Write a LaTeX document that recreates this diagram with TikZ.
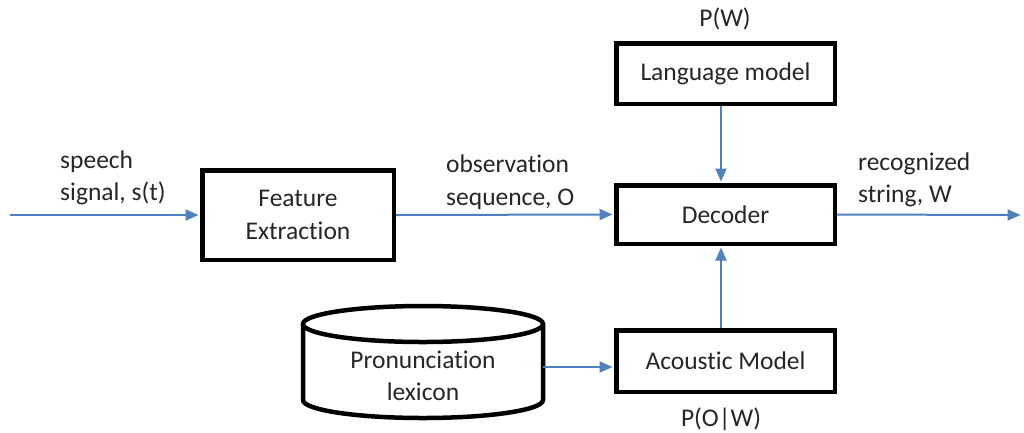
\documentclass[tikz,border=0pt]{standalone}
\usepackage{fontspec}
\setmainfont[Ligatures={NoCommon}]{Carlito}
\usetikzlibrary{arrows.meta}
\definecolor{flow}{HTML}{4F81BD}
\definecolor{ink}{HTML}{262626}
\tikzset{
  blk/.style={draw=black, line width=4.5pt, fill=white, text=ink, align=center,
              inner sep=0pt},
  flowarrow/.style={draw=flow, line width=2pt,
              -{Triangle[length=13pt,width=11pt]}, shorten >=1.5pt},
  lbl/.style={text=ink, align=left, inner sep=0pt},
}
\begin{document}
\begin{tikzpicture}[x=1pt, y=-1pt, font=\fontsize{25.5}{32.5}\selectfont]
\useasboundingbox (0,0) rectangle (1024,432);

% processing blocks
\node[blk, minimum width=191.5pt, minimum height=89.5pt] (fe)  at (298,215)   {Feature\\Extraction};
\node[blk, minimum width=218.5pt, minimum height=58.5pt] (dec) at (725.5,214.5) {Decoder};
\node[blk, minimum width=218.5pt, minimum height=60.5pt] (lm)  at (725.5,73.5)  {Language model};
\node[blk, minimum width=218.5pt, minimum height=61.5pt] (am)  at (725.5,361)   {Acoustic Model};

% pronunciation lexicon drawn as a cylinder
\draw[line width=4.5pt, fill=white] (303,324) -- (303,400)
  arc[start angle=180, end angle=360, x radius=120pt, y radius=18pt] -- (543,324);
\draw[line width=4.5pt] (423,324) ellipse [x radius=120pt, y radius=18pt];
\node[lbl, align=center] (lex) at (423,376) {Pronunciation\\lexicon};

% free ends and arrow start points
\coordinate (src) at (10,215);
\coordinate (sink) at (1022,215);
\coordinate (lexout) at (543,367);

% connectors
\draw[flowarrow] (src) -- (fe.west);
\draw[flowarrow] (fe.east) -- (dec.west);
\draw[flowarrow] (dec.east) -- (sink);
\draw[flowarrow] ([xshift=-4.5pt]lm.south) -- ([xshift=-4.5pt]dec.north);
\draw[flowarrow] ([xshift=-4.5pt]am.north) -- ([xshift=-4.5pt]dec.south);
\draw[flowarrow] (lexout) -- (lexout -| am.west);

% signal and probability labels
\node[lbl, anchor=west] (sig) at (60,178) {speech\\signal, s(t)};
\node[lbl, anchor=west] (obs) at (446,182) {observation\\sequence, O};
\node[lbl, anchor=west] (rec) at (858,180) {recognized\\string, W};
\node[lbl] (pw) at (725,19) {P(W)};
\node[lbl] (pow) at (721,419) {P(O|W)};
\end{tikzpicture}
\end{document}
